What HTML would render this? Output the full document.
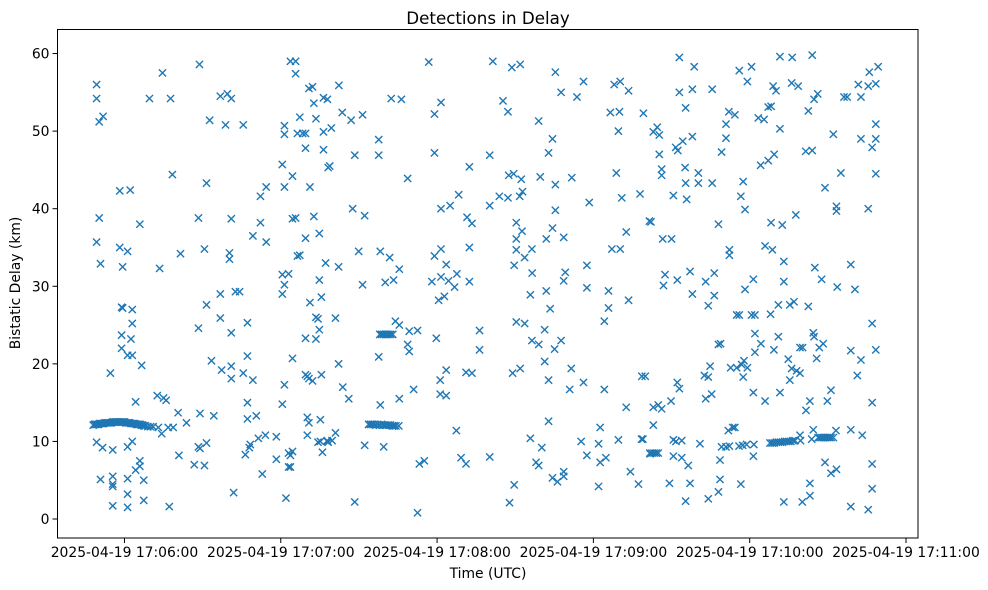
<!DOCTYPE html>
<html><head><meta charset="utf-8"><style>
body{margin:0;background:#fff;}
svg{display:block;font-family:"DejaVu Sans","Liberation Sans",sans-serif;}
</style></head><body>
<svg id="chart" width="988" height="590" xmlns="http://www.w3.org/2000/svg">
<rect width="988" height="590" fill="#fff"/>
<text x="488" y="24" text-anchor="middle" font-size="16.7" fill="#000">Detections in Delay</text>
<text x="488" y="578" text-anchor="middle" font-size="13.9" fill="#000">Time (UTC)</text>
<text x="20" y="283" text-anchor="middle" font-size="13.9" fill="#000" transform="rotate(-90 20 283)">Bistatic Delay (km)</text>
<g id="marks"></g>
<g id="axes"></g>
<rect x="57.5" y="29.5" width="860.5" height="508.5" fill="none" stroke="#000" stroke-width="1"/>
</svg>
<script>
// seconds after 17:05:00
const xTickValues = [60,120,180,240,300,360];
const xTickLabels = ["2025-04-19 17:06:00","2025-04-19 17:07:00","2025-04-19 17:08:00","2025-04-19 17:09:00","2025-04-19 17:10:00","2025-04-19 17:11:00"];
const yTickValues = [0,10,20,30,40,50,60];
const yTickLabels = ["0","10","20","30","40","50","60"];
const detections = [
[49.3,56],[49.3,54.2],[49.3,35.7],[49.3,9.9],[50.3,51.2],[50.3,38.8],[51.8,51.9],[50.8,32.9],[50.8,5.1],[51.6,9.2],[54.6,18.8],[55.5,8.9],[55.5,4.5],[55.5,5.5],[55.5,4.2],[55.5,1.7],
[58.2,42.3],[58.2,35],[59.3,32.5],[59.3,27.2],[62.2,42.4],[58.9,27.3],[58.9,23.7],[58.9,22],[61.2,34.5],[61.2,21.1],[61.2,9.3],[61.2,5.2],[61.2,3.2],[61.2,1.5],[63,27],[63,25.2],[62.5,23.2],[63,21.1],[63,10],[64.3,15.1],[64.3,6.3],[65.9,38],[65.9,7.5],[65.9,6.8],[66.6,19.8],[67.4,5],[67.4,2.4],
[48,12.1],[48.5,12.2],[49,12.2],[49.5,12.2],[50,12.2],[50.5,12.3],[51,12.3],[51.5,12.3],[52,12.3],[52.5,12.4],[53,12.4],[53.5,12.4],[54,12.4],[54.5,12.4],[55,12.4],[55.5,12.5],[56,12.5],[56.5,12.5],[57,12.5],[57.5,12.5],[58,12.5],[58.5,12.5],[59,12.5],[59.5,12.5],[60,12.5],[60.5,12.4],[61,12.4],[61.5,12.4],[62,12.4],[62.5,12.3],[63,12.3],[63.5,12.3],[64,12.3],[64.5,12.2],[65,12.2],[65.5,12.2],[66,12.2],[66.5,12.1],[67,12.1],[67.5,12.0],[68,12.0],[69,11.9],[70,11.9],[71,11.9],
[69.6,54.2],[74.6,57.5],[77.7,54.2],[78.4,44.4],[73.5,32.3],[81.5,34.2],[72.6,15.9],[75,15.6],[76,15.3],[74.3,11],[73,11.8],[76.8,11.8],[78.7,11.8],[80.6,13.7],[80.9,8.2],[83.8,12.4],[77.2,1.6],
[88.8,58.6],[88.4,38.8],[88.4,24.6],[88.4,9.3],[90.7,34.8],[91.5,43.3],[91.5,27.6],[91.5,9.8],[92.7,51.4],[93.4,20.4],[94.3,13.3],[89,13.6],[89,9.1],[86.8,7],[90.7,6.9],[96.8,54.5],[96.8,29],[96.8,25.9],[97.3,19.2],[99.5,54.8],[101,54.2],[101,38.7],[101,24],[101,19.7],[101,18.1],[98.8,50.8],[100.3,34.3],[100.3,33.5],[102.6,29.3],[104.2,29.3],[101.9,3.4],[105.6,50.8],[105.6,18.8],[107.2,25.3],[107.2,21],[107.2,15],[107.2,12.9],[106.4,8.3],[107.9,9.2],[108.3,9.6],[109.3,36.5],[109.3,17.9],[110.6,13.3],[111.4,10.4],[112.2,41.6],[112.2,38.2],[112.9,5.8],[114.1,10.8],[114.4,42.8],[114.4,35.7],[118.3,10.6],[118.3,7.7],
[120.6,45.7],[120.6,31.5],[120.6,29],[120.6,14.8],[121.4,50.7],[121.4,49.6],[121.4,42.8],[121.4,30.2],[121.4,17.3],[122,2.7],[123,8.5],[123,6.7],[123,31.6],[123.7,59],[123.7,8.2],[123.7,6.7],[124.5,44.2],[124.5,38.7],[124.5,20.7],[124.5,8.7],[125.7,59],[125.7,57.4],[125.7,38.8],[126.4,49.7],[126.4,33.9],[127.3,51.8],[127.3,34],[128.4,49.7],[129.5,47.8],[129.5,36.2],[129.5,23.3],[129.5,18.6],[129.5,49.7],[130.2,18.4],[130.2,13.1],[130.2,10.8],[130.8,55.5],[130.8,18.1],[130.8,12.4],[131.2,42.8],[131.2,27.9],[132.2,55.7],[132.2,17.8],[132.7,53.6],[132.7,39],[133.5,51.6],[133.5,26],[133.5,23.2],[134.3,25.8],[134.3,9.9],[134.8,36.8],[134.8,30.8],[134.8,24.4],[135.2,12.8],[135.2,10],[135.6,28.6],[135.6,18.6],[136,8.6],[136.4,54.3],[136.4,49.9],[136.4,47.6],[137.2,33],[137.9,54.1],[137.9,10],[138.2,45.3],[138.2,9.9],
[142.3,55.9],[143.6,52.4],[147,51.4],[151.4,52.1],[139.4,50.4],[138.8,45.5],[148.4,46.9],[157.6,48.9],[157.6,46.9],[162.4,54.2],[166.3,54.1],[168.7,43.9],[147.6,40],[152.2,39.1],[142.2,32.5],[149.9,34.5],[158.2,34.5],[161.8,33.7],[165.5,32.2],[141,25.9],[151.4,30.2],[160.1,30.5],[163.3,30.8],[142.2,20],[143.8,17],[146.1,15.5],[141,11.1],[137.8,10.1],[139.7,10.1],[148.4,2.2],[152.2,9.5],[157.6,20.9],[158.2,14.7],[159.5,9.3],[164,25.5],[165.5,25],[165.5,15.5],[168.7,22.5],[169.3,21.6],[169.3,24.2],[172.5,24.3],[171,16.7],[173.2,7.1],[175.1,7.5],[172.5,0.8],
[158,23.8],[158.7,23.8],[159.4,23.8],[160.1,23.8],[160.8,23.8],[161.5,23.8],[162.2,23.8],[163,23.8],
[153.7,12.2],[154.4,12.2],[155.1,12.2],[155.8,12.2],[156.5,12.1],[157.2,12.2],[157.9,12.1],[158.6,12.2],[159.3,12.1],[160,12.1],[160.7,12.1],[161.4,12.1],[162.1,12.1],[162.8,12.0],[163.5,12.0],[164.2,12.0],[165.3,12.0],
[176.8,58.9],[179,52.2],[181.5,53.7],[179,47.2],[181.5,40],[185,40.4],[188.3,41.8],[179.7,23.3],[178,30.6],[179,33.9],[181.5,34.8],[180.6,28.2],[182.8,28.7],[181.5,31.2],[183.5,32.8],[184.4,30.7],[186.7,29.9],[187.6,31.6],[181.2,17.9],[181.2,16.1],[183.5,19.2],[183.5,15.9],[187.4,11.4],[189.2,7.9],[191.1,7.1],[192.4,45.4],[191.5,38.9],[193.4,38.1],[192.4,35],[192.4,30.6],[191.1,18.9],[193.4,18.8],[196.3,24.3],[196.3,21.8],[200.2,46.9],[200.2,40.4],[200.2,8],[201.4,59],[205.3,53.9],[207.2,52.5],[203.9,41.6],[207.2,41.4],[207.5,44.3],[209.4,44.5],[212.3,43.8],[211.7,41.6],[212.8,42.2],[208.7,58.2],[211.9,58.6],[210.4,38.2],[210.4,36.1],[212.6,37.1],[210.4,34.7],[213.6,33.7],[216.4,34.8],[209.6,32.7],[216.5,31.7],[215.8,28.9],[210.4,25.4],[213.6,25.2],[216.4,23],[219,22.5],[209,18.8],[211.9,19.4],[215.8,10.4],[218,7.3],[219,6.9],[207.8,2.1],[209.6,4.4],
[219,51.3],[219.6,44.1],[224.3,49],[222.8,47.2],[225.4,57.6],[225.4,43.1],[225.4,39.8],[224.3,37.5],[221.9,36.1],[228.6,36.3],[231.7,44],[221.9,29.4],[223.4,27.1],[221.3,24.4],[225.1,21.9],[227.6,23],[228.6,30.7],[229.2,31.8],[221.3,20.3],[222.8,17.9],[231.5,19.4],[230.9,16.7],[222.8,12.6],[220.2,9.2],[224.3,5.3],[226.2,4.8],[228.6,5.5],[228.6,6.1],[227.6,55],[233.7,54.4],[236.2,56.4],[238.4,40.8],[237.5,32.7],[237.5,29.8],[236.2,17.6],[235.3,10],[237.5,8.2],[242,9.7],[242.6,11.8],[242,4.2],[242.6,7.3],[244.8,7.9],[244.2,16.7],[244.2,25.5],[245.8,27.2],[245.8,29.4],[246.5,52.4],[248,56],[250,52.5],[250.3,56.4],[253.5,55.2],[249.6,50],[248.8,44.6],[250.9,41.4],[247.1,34.8],[250.3,34.8],[252.6,37],[253.5,28.2],[252.6,14.4],[249.6,10.2],[254.2,6.1],[257.3,4.5],[257.9,41.9],[259.2,52.3],[258.6,18.4],[259.9,18.4],[259,10.3],[261.5,38.4],[261.8,8.4],
[263,49.9],[264.5,50.5],[265.3,49.5],[265.3,47],[266.2,45.1],[266.2,44.3],[262.1,38.3],[266.6,36.1],[270,36.1],[267.5,31.5],[266.9,30.1],[272.2,30.8],[277.1,31.9],[278,29],[273,59.5],[278.7,58.3],[273,55],[278,55.4],[275.4,53],[285.6,55.4],[271.6,47.9],[272.4,47.5],[274.3,48.7],[278,49.3],[275.2,45.3],[275.4,43.3],[275.8,41.2],[280.3,44.6],[280.3,43.3],[285.6,43.3],[270.7,41.7],[288,38],[283.1,30.6],[286.4,31.7],[284.1,27.5],[286.4,28.8],[288,22.5],[288.8,22.6],[282.6,18.5],[284.8,19.7],[284.1,18.3],[272.2,17.6],[273,16.8],[283.1,15.5],[285.4,16.1],[269.8,15.2],[263,14.4],[264.9,14.7],[266.2,14.2],[263,12.1],[258.5,10.3],
[261.7,8.5],[262.5,8.5],[263.3,8.5],[264.1,8.5],[264.9,8.5],
[270.7,10.2],[271.7,10],[273.9,10.1],[270.7,8.1],[273.9,7.9],[276.4,6.9],[269.2,4.6],[277.1,4.6],[275.4,2.3],[280.9,9.7],[284.1,2.6],[288,3.5],[288.6,5.1],[288.6,7.6],[289.2,9.3],[290.9,9.3],[292.2,9.4],[291.8,11.4],[293.5,11.8],[294.3,11.8],[295.9,9.4],[297.3,9.5],[298.8,9.6],[296.6,4.5],[292.7,19.5],[295,19.5],[296.9,19.9],[297.8,20.4],[299.1,19.5],[297.5,18.3],[301.4,16.3],[302,21.5],[302,23.9],[304.3,22.6],[301.6,9.6],[301.4,8.1],[305.9,15.2],[295,26.3],[296,26.3],[300.7,26.3],[302,26.3],[308,26.4],[309.3,21.8],[311,23.5],[311,27.6],[315.4,27.6],[317,28],[322.5,27.4],[314.8,20.6],[316.1,19.4],[318,19.1],[319.3,18.8],[315.4,17.9],[311.6,16.3],[319.3,22.1],[320.3,22.1],[324.4,24],[324.7,23.5],[325.7,20.7],[326.7,22.1],[328.2,22.6],[321.6,14],[323.1,15.2],[329.8,15.2],[331.2,16.6],[325,32.4],[327.6,30.9],[333.6,29.9],[338.8,32.8],[340.4,29.6],[341.3,18.5],[338.8,21.7],[342.7,20.5],[347,25.2],[348.4,21.8],[347,15],[347,7.1],[347,3.9],[345.5,1.2],[338.8,1.6],[333.3,6.4],[331.2,5.9],[328.9,7.3],[323.1,4.6],[323.1,3],[320.2,2.2],[313.1,2.2],[319.3,10.8],[319.5,10.1],[324.4,11.5],[323.8,10.3],[333.1,11.4],[338.8,11.5],[343.2,10.8],[332.1,10.5],
[307.8,9.8],[308.6,9.8],[309.4,9.8],[310.2,9.9],[311,9.9],[311.8,9.9],[312.6,9.9],[313.4,10],[314.2,10],[315,10],[315.8,10],[316.6,10.1],[317.4,10.1],
[326.3,10.5],[327,10.5],[327.7,10.5],[328.4,10.5],[329.1,10.5],[329.8,10.5],[330.5,10.5],[331.2,10.5],
[303.3,51.7],[305.5,51.5],[304.2,45.6],[307.1,46.2],[309.4,47],[311.6,50.3],[307.1,53.1],[308.2,53.2],[309,55.8],[310.1,55.2],[311.6,59.6],[316.3,59.5],[324,59.8],[316.1,56.2],[318.6,55.8],[322.5,52.6],[324.7,54.1],[326.1,54.8],[321.5,47.4],[324,47.5],[328.9,42.7],[332.1,49.6],[335,44.6],[333.3,40.3],[333.3,39.7],[336.2,54.4],[337.4,54.4],[341.7,56],[342.7,54.4],[342.7,49],[345.5,40],[345.9,57.6],[345.5,55.8],[347,47.9],[348.4,50.9],[348.4,49],[348.4,44.5],[348.4,56.1],[349.3,58.3],
[296,57.8],[299.1,56.4],[300.7,58.3],[292,52.5],[290.9,50.9],[290.9,49.1],[289.2,47.3],[294.3,52.1],[297.5,43.5],[296.6,41.6],[298.2,39.9],[308.2,38.2],[312.5,37.9],[317.7,39.2],[305.9,35.2],[308.7,34.7],[313.1,33.2],[313.1,30.6],[301.4,30.9],[298.2,29.6],[292.2,34.7],[292.2,34]
];
const NS="http://www.w3.org/2000/svg";
const PL=57.5, PR=918, PT=29.5, PB=538;
const X0=34.3, X1=364.6, Y0=-2.45, Y1=63.1;
function xScale(t){return PL+(t-X0)/(X1-X0)*(PR-PL);}
function yScale(v){return PB-(v-Y0)/(Y1-Y0)*(PB-PT);}
const marks=document.getElementById('marks');
const axes=document.getElementById('axes');
const s=3.6;
detections.forEach(function(p){
  const cx=xScale(p[0]), cy=yScale(p[1]);
  const path=document.createElementNS(NS,'path');
  path.setAttribute('d','M'+(cx-s)+' '+(cy-s)+'L'+(cx+s)+' '+(cy+s)+'M'+(cx-s)+' '+(cy+s)+'L'+(cx+s)+' '+(cy-s));
  path.setAttribute('stroke','#1f77b4');
  path.setAttribute('stroke-width','1.4');
  path.setAttribute('fill','none');
  
  
  marks.appendChild(path);
});
xTickValues.forEach(function(v,i){
  const x=xScale(v);
  const l=document.createElementNS(NS,'line');
  l.setAttribute('x1',x);l.setAttribute('x2',x);l.setAttribute('y1',PB);l.setAttribute('y2',PB+5);
  l.setAttribute('stroke','#000');
  
  
  axes.appendChild(l);
  const t=document.createElementNS(NS,'text');
  t.setAttribute('x',x);t.setAttribute('y',PB+19);t.setAttribute('text-anchor','middle');t.setAttribute('font-size','13.9');
  t.textContent=xTickLabels[i];
  
  
  axes.appendChild(t);
});
yTickValues.forEach(function(v,i){
  const y=yScale(v);
  const l=document.createElementNS(NS,'line');
  l.setAttribute('x1',PL-5);l.setAttribute('x2',PL);l.setAttribute('y1',y);l.setAttribute('y2',y);
  l.setAttribute('stroke','#000');
  
  
  axes.appendChild(l);
  const t=document.createElementNS(NS,'text');
  t.setAttribute('x',PL-8);t.setAttribute('y',y+5);t.setAttribute('text-anchor','end');t.setAttribute('font-size','13.9');
  t.textContent=yTickLabels[i];
  
  
  axes.appendChild(t);
});
</script>
</body></html>
